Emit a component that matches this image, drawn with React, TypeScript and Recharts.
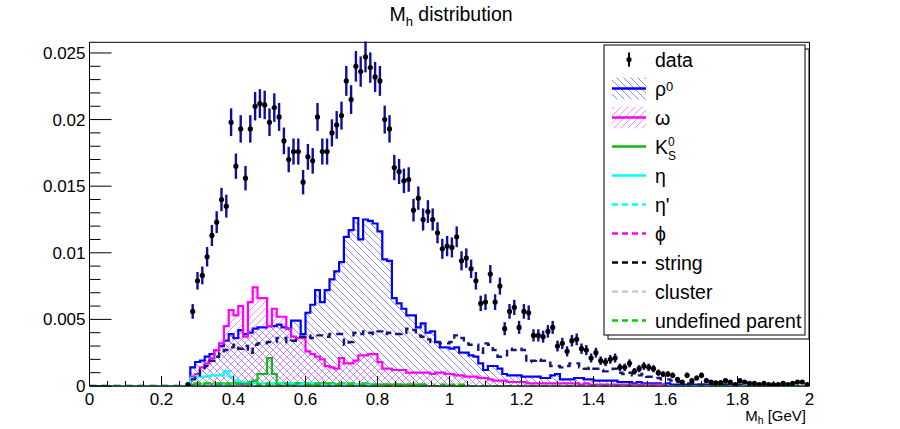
import React from "react";
import {
  ComposedChart,
  Area,
  Line,
  Scatter,
  ErrorBar,
  XAxis,
  YAxis,
  ReferenceArea,
} from "recharts";

const W = 900;
const H = 429;
const FONT = '"Liberation Sans", Arial, Helvetica, sans-serif';

// binning of all histograms: 150 bins on [0, 2] GeV
const N_BINS = 150;
const M_MIN = 0;
const M_MAX = 2;
const BIN_W = (M_MAX - M_MIN) / N_BINS;
// every array below starts at this bin, bins before it (and after the end of an array) are empty
const FIRST_BIN = 20;
const Y_MAX = 0.0258;

const xMajorTicks = [0, 0.2, 0.4, 0.6, 0.8, 1, 1.2, 1.4, 1.6, 1.8, 2];
const yMajorTicks = [0, 0.005, 0.01, 0.015, 0.02, 0.025];

// data points (normalised counts) and their errors
const dataCounts = [
  0.0001, 0.0056, 0.0079, 0.0083, 0.0097, 0.0113, 0.0123, 0.014, 0.0135, 0.0198,
  0.0165, 0.0193, 0.0156, 0.0193, 0.021, 0.0212, 0.0211, 0.0198, 0.0209, 0.0202,
  0.0184, 0.017, 0.0176, 0.0176, 0.0153, 0.0172, 0.0169, 0.0202, 0.0176, 0.0176,
  0.019, 0.0196, 0.0203, 0.0229, 0.0215, 0.024, 0.0236, 0.0247, 0.0239, 0.0232,
  0.0229, 0.02, 0.0193, 0.0164, 0.0161, 0.0154, 0.0155, 0.0132, 0.0141, 0.0125,
  0.0131, 0.0125, 0.0115, 0.0103, 0.0105, 0.0104, 0.0112, 0.0094, 0.0096, 0.0088,
  0.0079, 0.0062, 0.0063, 0.0084, 0.0063, 0.0075, 0.0043, 0.0056, 0.0059, 0.0044,
  0.0056, 0.0055, 0.0038, 0.0038, 0.0037, 0.0041, 0.0044, 0.003, 0.0032, 0.0026,
  0.0034, 0.0035, 0.0028, 0.0027, 0.0021, 0.0025, 0.0019, 0.0018, 0.002, 0.0021,
  0.0014, 0.0014, 0.0017, 0.0011, 0.0013, 0.0015, 0.0014, 0.0013, 0.001, 0.0009,
  0.0009, 0.0008, 0.0005, 0.0003, 0.0008, 0.0004, 0.0006, 0.0008, 0.0004, 0.0003,
  0.00023, 0.00025, 0.0004, 0.0003, 0.0001, 0.0004, 0.0003, 0.0002, 0.0002, 0.0001,
  0.0002, 0.0001, 0.0001, 0.0001, 0.0002, 0.0001, 0.0002, 0.0003, 0.0003, 0.0001,
];
const dataErrors = [
  0.00008, 0.00055, 0.00066, 0.00067, 0.00073, 0.00079, 0.00082, 0.00088, 0.00086, 0.00104,
  0.00095, 0.00103, 0.00092, 0.00103, 0.00107, 0.00108, 0.00107, 0.00104, 0.00107, 0.00105,
  0.001, 0.00096, 0.00098, 0.00098, 0.00092, 0.00097, 0.00096, 0.00105, 0.00098, 0.00098,
  0.00102, 0.00104, 0.00105, 0.00112, 0.00108, 0.00115, 0.00114, 0.00116, 0.00114, 0.00113,
  0.00112, 0.00105, 0.00103, 0.00095, 0.00094, 0.00092, 0.00092, 0.00085, 0.00088, 0.00083,
  0.00085, 0.00083, 0.00079, 0.00075, 0.00076, 0.00075, 0.00078, 0.00072, 0.00073, 0.00069,
  0.00066, 0.00058, 0.00059, 0.00068, 0.00059, 0.00064, 0.00049, 0.00055, 0.00057, 0.00049,
  0.00055, 0.00055, 0.00046, 0.00046, 0.00045, 0.00047, 0.00049, 0.00041, 0.00042, 0.00038,
  0.00043, 0.00044, 0.00039, 0.00038, 0.00034, 0.00037, 0.00032, 0.00031, 0.00033, 0.00034,
  0.00028, 0.00028, 0.0003, 0.00025, 0.00027, 0.00029, 0.00028, 0.00027, 0.00023, 0.00022,
  0.00022, 0.00021, 0.00017, 0.00013, 0.00021, 0.00015, 0.00018, 0.00021, 0.00015, 0.00013,
  0.00011, 0.00012, 0.00015, 0.00013, 0.00008, 0.00015, 0.00013, 0.0001, 0.0001, 0.00008,
  0.0001, 0.00008, 0.00008, 0.00008, 0.0001, 0.00008, 0.0001, 0.00013, 0.00013, 0.00008,
];

// MC components
const rhoHist = [
  0, 0.0014, 0.0018, 0.0019, 0.0022, 0.0024, 0.0027, 0.003, 0.0034, 0.0039,
  0.0036, 0.0042, 0.0039, 0.004, 0.0043, 0.0044, 0.0044, 0.0045, 0.0045, 0.0046,
  0.0044, 0.0043, 0.0049, 0.0049, 0.0039, 0.0055, 0.0061, 0.0072, 0.0063, 0.0072,
  0.008, 0.0086, 0.0093, 0.0112, 0.0117, 0.0126, 0.011, 0.0125, 0.0124, 0.0122,
  0.0116, 0.0095, 0.0094, 0.0066, 0.0062, 0.0058, 0.0053, 0.0053, 0.0044, 0.0047,
  0.004, 0.0041, 0.0033, 0.0029, 0.0029, 0.0028, 0.0029, 0.0025, 0.0025, 0.0023,
  0.0022, 0.0017, 0.0012, 0.0015, 0.0015, 0.0013, 0.0009, 0.0008, 0.0008, 0.0008,
  0.0007, 0.0007, 0.0007, 0.0007, 0.0006, 0.0006, 0.0008, 0.0009, 0.0005, 0.0005,
  0.0005, 0.0006, 0.0006, 0.0005, 0.0005, 0.0004, 0.0004, 0.0004, 0.0004, 0.0004,
  0.0003, 0.0003, 0.0003, 0.0002, 0.0003, 0.0002, 0.0002, 0.0002, 0.0002, 0.0001,
  0.0002, 0.0001, 0.0001, 0.0001, 0.0001, 0.0001, 0.0001, 0.0001, 0.0001, 0.0001,
  0.0001, 0.0001, 0.0001, 0.0001, 0.0001, 0.0001,
];
const omegaHist = [
  0, 0.0007, 0.0009, 0.0014, 0.0017, 0.0021, 0.0027, 0.0032, 0.0045, 0.0057,
  0.0053, 0.006, 0.0037, 0.0063, 0.0074, 0.0066, 0.0066, 0.0045, 0.0058, 0.0052,
  0.0052, 0.0043, 0.0037, 0.0036, 0.0036, 0.0026, 0.0024, 0.0022, 0.002, 0.0015,
  0.0014, 0.0013, 0.0021, 0.0017, 0.0017, 0.0019, 0.0023, 0.0023, 0.0024, 0.0024,
  0.0018, 0.0013, 0.0013, 0.0012, 0.0012, 0.0012, 0.001, 0.001, 0.001, 0.001,
  0.001, 0.0009, 0.001, 0.001, 0.0009, 0.0009, 0.0008, 0.0008, 0.0007, 0.0007,
  0.0007, 0.0006, 0.0006, 0.0005, 0.0004, 0.0004, 0.0004, 0.0003, 0.0003, 0.0003,
  0.0003, 0.0002, 0.0002, 0.0002, 0.0002, 0.0002, 0.0002, 0.0002, 0.0002, 0.0002,
  0.0002, 0.0002, 0.0001, 0.0002, 0.0001, 0.0001, 0.0001, 0.0001, 0.0001, 0.0001,
  0.0001, 0.0001, 0.0001, 0.0001, 0.0001, 0.0001, 0.0001, 0.0001, 0.0001, 0.0001,
];
const k0sHist = [
  0, 0.0001, 0.0001, 0.0001, 0.0002, 0.0001, 0.0002, 0.0002, 0.0001, 0.0002,
  0.0002, 0.0002, 0.0002, 0.0003, 0.0004, 0.0009, 0.0009, 0.0021, 0.0009, 0.0002,
  0.0002, 0.0002, 0.0001, 0.0002, 0.0002, 0.0002, 0.0001, 0.0002, 0.0002, 0.0001,
  0.0002, 0.0001, 0.0002, 0.0001, 0.0002, 0.0001, 0.0001, 0.0002, 0.0001, 0.0001,
  0.0001, 0.0001, 0.0001, 0.0001, 0.0001, 0.0001, 0.0001, 0.0001, 0.0001, 0.0001,
];
const etaHist = [
  0, 0.0006, 0.0007, 0.0007, 0.0007, 0.0008, 0.0008, 0.0008, 0.0011, 0.0007,
  0.0004, 0.0003, 0.0003, 0.0002, 0.0002, 0.0002, 0.0002, 0.0002, 0.0002, 0.0002,
  0.0002, 0.0002, 0.0002, 0.0001, 0.0002, 0.0001, 0.0002, 0.0001, 0.0001, 0.0001,
  0.0001, 0.0001, 0.0001, 0.0001, 0.0001, 0.0001, 0.0001, 0.0001, 0.0001, 0.0001,
];
const etaPrimeHist = [0, 0, 0.0001, 0.0001, 0.0001, 0.0001, 0.0001, 0.0001, 0, 0.0001];
const phiHist = [0, 0, 0.0001, 0, 0.0001, 0.0001, 0, 0.0001, 0.0001, 0, 0.0001, 0.0001, 0, 0.0001];
const stringHist = [
  0, 0.0005, 0.0008, 0.0012, 0.0015, 0.0019, 0.0022, 0.0025, 0.0027, 0.0029,
  0.0031, 0.0028, 0.003, 0.0025, 0.0031, 0.0032, 0.0032, 0.0033, 0.0033, 0.0036,
  0.0036, 0.0033, 0.0034, 0.0037, 0.0037, 0.0038, 0.0036, 0.0038, 0.0038, 0.0037,
  0.0039, 0.0039, 0.0039, 0.0031, 0.0033, 0.004, 0.0039, 0.0041, 0.004, 0.0039,
  0.0041, 0.0039, 0.004, 0.0039, 0.0039, 0.004, 0.0043, 0.0042, 0.0038, 0.0037,
  0.0035, 0.0033, 0.0033, 0.0032, 0.0032, 0.0033, 0.0038, 0.0036, 0.0032, 0.0031,
  0.0031, 0.0025, 0.0032, 0.0031, 0.0027, 0.0022, 0.0023, 0.0028, 0.0027, 0.0028,
  0.0027, 0.0018, 0.0019, 0.002, 0.0019, 0.0019, 0.0015, 0.0015, 0.0014, 0.0015,
  0.0017, 0.0017, 0.0014, 0.0013, 0.0014, 0.0013, 0.0012, 0.0011, 0.0011, 0.0013,
  0.001, 0.0009, 0.001, 0.0008, 0.0008, 0.0009, 0.0007, 0.0007, 0.0006, 0.0005,
  0.0005, 0.0004, 0.0003, 0.0003, 0.0002, 0.0002, 0.0001, 0.0001, 0.0001, 0.0001,
  0.0001, 0.0001, 0.0001, 0.0001, 0.0001, 0.0001,
];
const clusterHist = [0, 0.0001, 0, 0.0001, 0.0001, 0, 0.0001, 0, 0, 0.0001];
const undefinedHist = [
  0, 0.0001, 0.0002, 0.0001, 0.0002, 0.0002, 0.0001, 0.0002, 0.0002, 0.0001,
  0.0002, 0.0002, 0.0001, 0.0002, 0.0002, 0.0001, 0.0002, 0.0001, 0.0002, 0.0001,
  0.0002, 0.0001, 0.0001, 0.0002, 0.0001, 0.0001, 0.0002, 0.0001, 0.0001, 0.0002,
  0.0001, 0.0001, 0.0001, 0.0001, 0.0001, 0.0001, 0.0001, 0.0001, 0.0001, 0.0001,
  0.0001, 0.0001, 0.0001, 0.0001, 0.0001, 0.0001, 0.0001, 0.0001, 0.0001, 0.0001,
  0.0001, 0, 0.0001, 0.0001, 0, 0.0001, 0, 0.0001,
];

const C = {
  err: "#0e0e9c",
  rho: "#0000ff",
  omega: "#ff00ff",
  k0s: "#14b814",
  eta: "#00ffff",
  string: "#16167a",
  cluster: "#cccccc",
  undef: "#00d000",
};
const DASH = "7 5";

// step rows at the lower bin edges, the last row closes the last bin at 2 GeV
const histRows = Array.from({ length: N_BINS + 1 }, (_, i) => {
  const k = Math.min(i, N_BINS - 1) - FIRST_BIN;
  const at = (arr: number[]) => (k >= 0 && k < arr.length ? arr[k] : 0);
  return {
    m: M_MIN + i * BIN_W,
    rho: at(rhoHist),
    omega: at(omegaHist),
    k0s: at(k0sHist),
    eta: at(etaHist),
    etaPrime: at(etaPrimeHist),
    phi: at(phiHist),
    string: at(stringHist),
    cluster: at(clusterHist),
    undef: at(undefinedHist),
  };
});

const dataPoints = dataCounts.map((y, k) => ({
  m: M_MIN + (FIRST_BIN + k + 0.5) * BIN_W,
  y,
  err: dataErrors[k],
}));

const xTicks = Array.from({ length: 41 }, (_, i) => +(i * 0.05).toFixed(2));
const yTicks = Array.from({ length: 26 }, (_, i) => +(i * 0.001).toFixed(3));

const isMajor = (list: number[], v: number) => list.some((t) => Math.abs(t - v) < 1e-9);

function XTick(props: any) {
  const { x, y, payload } = props;
  const v = payload.value as number;
  const major = isMajor(xMajorTicks, v);
  return (
    <g>
      <line x1={x} x2={x} y1={y} y2={y - (major ? 10 : 5)} stroke="#000" />
      {major && (
        <text x={x} y={y + 19} textAnchor="middle" fontSize={17} fill="#000">
          {String(+v.toFixed(2))}
        </text>
      )}
    </g>
  );
}

function YTick(props: any) {
  const { x, y, payload } = props;
  const v = payload.value as number;
  const major = isMajor(yMajorTicks, v);
  return (
    <g>
      <line x1={x} x2={x + (major ? 22 : 11)} y1={y} y2={y} stroke="#000" />
      {major && (
        <text x={x - 4} y={y + 6} textAnchor="end" fontSize={17} fill="#000">
          {String(+v.toFixed(3))}
        </text>
      )}
    </g>
  );
}

function Dot(props: any) {
  return <circle cx={props.cx} cy={props.cy} r={2.6} fill="#000" />;
}

// legend rows
const LEG_X = 604;
const LEG_Y = 45;
const LEG_W = 201;
const LEG_H = 290;
const ROW_H = 29;

type LegendRow = {
  kind: "data" | "fill" | "line";
  color?: string;
  pattern?: string;
  dash?: boolean;
  label: React.ReactNode;
};

const legendRows: LegendRow[] = [
  { kind: "data", label: "data" },
  {
    kind: "fill",
    color: C.rho,
    pattern: "hatchRho",
    label: (
      <>
        ρ<tspan dy={-5} fontSize={13}>0</tspan>
      </>
    ),
  },
  { kind: "fill", color: C.omega, pattern: "hatchOmega", label: "ω" },
  {
    kind: "line",
    color: C.k0s,
    label: (
      <>
        K
        <tspan x={668} dy={-8} fontSize={12}>0</tspan>
        <tspan x={668} dy={14} fontSize={12}>S</tspan>
      </>
    ),
  },
  { kind: "line", color: C.eta, label: "η" },
  { kind: "line", color: C.eta, dash: true, label: "η'" },
  { kind: "line", color: C.omega, dash: true, label: "ϕ" },
  { kind: "line", color: "#000", dash: true, label: "string" },
  { kind: "line", color: C.cluster, dash: true, label: "cluster" },
  { kind: "line", color: C.undef, dash: true, label: "undefined parent" },
];

function LegendSymbol({ row, cy }: { row: LegendRow; cy: number }) {
  if (row.kind === "data") {
    return (
      <g>
        <line x1={629} x2={629} y1={cy - 7} y2={cy + 7} stroke="#000" strokeWidth={2} />
        <circle cx={629} cy={cy} r={2.6} fill="#000" />
      </g>
    );
  }
  if (row.kind === "fill") {
    return (
      <g>
        <rect x={612} y={cy - 11} width={34} height={22} fill={`url(#${row.pattern})`} />
        <line x1={612} x2={646} y1={cy} y2={cy} stroke={row.color} strokeWidth={2.5} />
      </g>
    );
  }
  return (
    <line
      x1={612}
      x2={646}
      y1={cy}
      y2={cy}
      stroke={row.color}
      strokeWidth={2.5}
      strokeDasharray={row.dash ? "6 4" : undefined}
    />
  );
}

export default function App() {
  return (
    <div
      style={{
        position: "absolute",
        left: 0,
        top: 0,
        width: W,
        height: H,
        background: "#fff",
        fontFamily: FONT,
      }}
    >
      <svg width={0} height={0} style={{ position: "absolute" }}>
        <defs>
          <pattern id="hatchRho" patternUnits="userSpaceOnUse" width={7} height={7}>
            <path d="M0,0 L7,7 M-1,6 L1,8 M6,-1 L8,1" stroke={C.rho} strokeWidth={0.45} />
          </pattern>
          <pattern id="hatchOmega" patternUnits="userSpaceOnUse" width={7} height={7}>
            <path d="M0,7 L7,0 M-1,1 L1,-1 M6,8 L8,6" stroke={C.omega} strokeWidth={0.45} />
          </pattern>
        </defs>
      </svg>

      <ComposedChart
        width={W}
        height={H}
        data={histRows}
        margin={{ top: 42.3, right: 90.5, bottom: 13, left: 10 }}
      >
        <XAxis
          dataKey="m"
          type="number"
          domain={[M_MIN, M_MAX]}
          ticks={xTicks}
          interval={0}
          allowDataOverflow
          height={30}
          tickSize={0}
          tickMargin={0}
          tickLine={false}
          axisLine={{ stroke: "#000" }}
          tick={(p: any) => <XTick {...p} />}
        />
        <YAxis
          type="number"
          domain={[0, Y_MAX]}
          ticks={yTicks}
          interval={0}
          allowDataOverflow
          width={79.5}
          tickSize={0}
          tickMargin={0}
          tickLine={false}
          axisLine={{ stroke: "#000" }}
          tick={(p: any) => <YTick {...p} />}
        />

        <Area
          type="stepAfter"
          dataKey="rho"
          stroke={C.rho}
          strokeWidth={2.2}
          fill="url(#hatchRho)"
          fillOpacity={1}
          dot={false}
          activeDot={false}
          isAnimationActive={false}
        />
        <Area
          type="stepAfter"
          dataKey="omega"
          stroke={C.omega}
          strokeWidth={2.2}
          fill="url(#hatchOmega)"
          fillOpacity={1}
          dot={false}
          activeDot={false}
          isAnimationActive={false}
        />
        <Line type="stepAfter" dataKey="k0s" stroke={C.k0s} strokeWidth={2.2} dot={false} activeDot={false} isAnimationActive={false} />
        <Line type="stepAfter" dataKey="eta" stroke={C.eta} strokeWidth={2.2} dot={false} activeDot={false} isAnimationActive={false} />
        <Line type="stepAfter" dataKey="etaPrime" stroke={C.eta} strokeWidth={2.2} strokeDasharray={DASH} dot={false} activeDot={false} isAnimationActive={false} />
        <Line type="stepAfter" dataKey="phi" stroke={C.omega} strokeWidth={2.2} strokeDasharray={DASH} dot={false} activeDot={false} isAnimationActive={false} />
        <Line type="stepAfter" dataKey="string" stroke={C.string} strokeWidth={2.4} strokeDasharray={DASH} dot={false} activeDot={false} isAnimationActive={false} />
        <Line type="stepAfter" dataKey="cluster" stroke={C.cluster} strokeWidth={2.2} strokeDasharray={DASH} dot={false} activeDot={false} isAnimationActive={false} />
        <Line type="stepAfter" dataKey="undef" stroke={C.undef} strokeWidth={2.2} strokeDasharray={DASH} dot={false} activeDot={false} isAnimationActive={false} />

        <Scatter data={dataPoints} dataKey="y" shape={<Dot />} isAnimationActive={false}>
          <ErrorBar dataKey="err" direction="y" width={0} stroke={C.err} strokeWidth={2.4} />
        </Scatter>

        <ReferenceArea
          x1={M_MIN}
          x2={M_MAX}
          y1={0}
          y2={Y_MAX}
          fill="none"
          stroke="#000"
          strokeWidth={1}
          ifOverflow="visible"
        />
      </ComposedChart>

      <svg
        width={W}
        height={H}
        style={{ position: "absolute", left: 0, top: 0, pointerEvents: "none" }}
      >
        <text x={451} y={21} textAnchor="middle" fontSize={19.5} fill="#000" style={{ whiteSpace: "pre" }}>
          M<tspan dy={5} fontSize={13}>h</tspan>
          <tspan dy={-5}>{" distribution"}</tspan>
        </text>

        <text x={806} y={421} textAnchor="end" fontSize={15} fill="#000" style={{ whiteSpace: "pre" }}>
          M<tspan dy={3} fontSize={10.5}>h</tspan>
          <tspan dy={-3}>{" [GeV]"}</tspan>
        </text>

        <rect x={LEG_X + 4} y={LEG_Y + 4} width={LEG_W} height={LEG_H} fill="none" stroke="#000" />
        <rect x={LEG_X} y={LEG_Y} width={LEG_W} height={LEG_H} fill="#fff" stroke="#000" />
        {legendRows.map((row, i) => {
          const cy = LEG_Y + ROW_H / 2 + i * ROW_H;
          return (
            <g key={i}>
              <LegendSymbol row={row} cy={cy} />
              <text x={655} y={cy + 7} fontSize={19.5} fill="#000">
                {row.label}
              </text>
            </g>
          );
        })}
      </svg>
    </div>
  );
}
